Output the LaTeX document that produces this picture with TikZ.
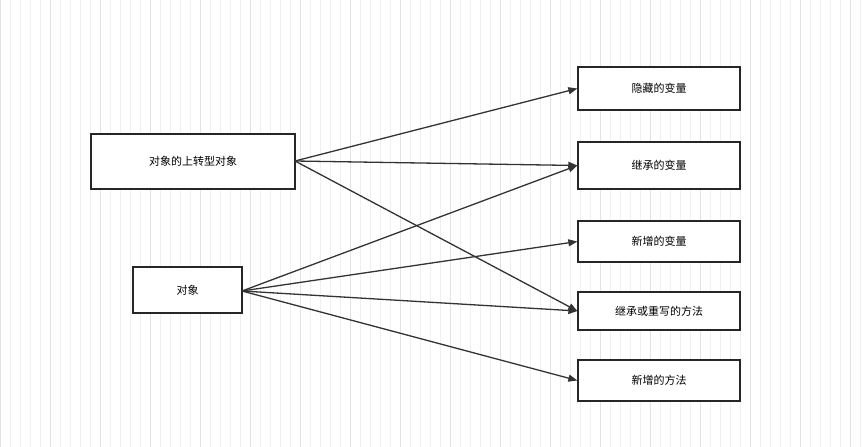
\documentclass[tikz,border=0pt]{standalone}
\usepackage{fontspec}
\newfontfamily\cjk{Noto Sans CJK SC}
\usetikzlibrary{arrows.meta}
\begin{document}
\begin{tikzpicture}[x=1pt,y=-1pt,
  box/.style={draw=black!85,line width=1.3pt,fill=white,inner sep=0pt,font=\cjk\fontsize{11}{13}\selectfont},
  arr/.style={draw=black!80,line width=1.3pt,-{Triangle[length=9pt,width=7pt]}}]
\fill[white] (0,0) rectangle (862,447);
\useasboundingbox (0,0) rectangle (862,447);
\draw[black!6,line width=0.5pt] (0,0) grid[step=10] (862,447);
\draw[black!11,line width=0.5pt] (0,0) grid[step=50] (862,447);
\node[box,minimum width=204pt,minimum height=55pt] (up) at (193,161.5) {对象的上转型对象};
\node[box,minimum width=109pt,minimum height=46pt] (obj) at (187.5,290) {对象};
\node[box,minimum width=162pt,minimum height=43pt] (h) at (659,88.5) {隐藏的变量};
\node[box,minimum width=162pt,minimum height=47pt] (jv) at (659,165.5) {继承的变量};
\node[box,minimum width=162pt,minimum height=41pt] (nv) at (659,241.5) {新增的变量};
\node[box,minimum width=162pt,minimum height=38pt] (jm) at (659,311) {继承或重写的方法};
\node[box,minimum width=162pt,minimum height=41pt] (nm) at (659,380.5) {新增的方法};
\coordinate (u) at (295,161);
\coordinate (o) at (242,291);
\draw[arr] (u) -- (h.west);
\draw[arr] (u) -- (jv.west);
\draw[arr] (u) -- (jm.west);
\draw[arr] (o) -- (jv.west);
\draw[arr] (o) -- (nv.west);
\draw[arr] (o) -- (jm.west);
\draw[arr] (o) -- (nm.west);
\end{tikzpicture}
\end{document}
